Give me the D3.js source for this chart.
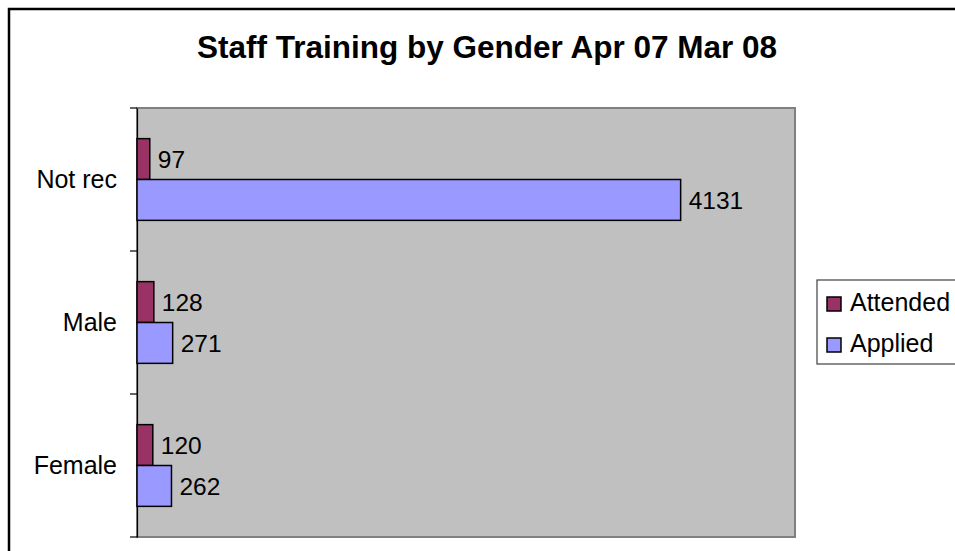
<!DOCTYPE html>
<html>
<head>
<meta charset="utf-8">
<script src="https://cdn.jsdelivr.net/npm/d3@7"></script>
<style>
  html, body { margin: 0; padding: 0; background: #fff; }
  svg { display: block; }
  text { font-family: "Liberation Sans", Arial, sans-serif; }
</style>
</head>
<body>
<svg id="chart" width="955" height="551"></svg>
<script>
const title = "Staff Training by Gender Apr 07 Mar 08";
const categories = ["Not rec", "Male", "Female"];
const seriesNames = ["Attended", "Applied"];
const attended = [97, 128, 120];
const applied = [4131, 271, 262];
const xMax = 5000;

const colors = { Attended: "#993366", Applied: "#9999FF" };

const svg = d3.select("#chart");

// outer chart border (extends past the canvas at right/bottom)
svg.append("rect")
  .attr("x", 9).attr("y", 9).attr("width", 1000).attr("height", 600)
  .attr("fill", "#fff").attr("stroke", "#000").attr("stroke-width", 2.5);

// title
svg.append("text")
  .attr("x", 487).attr("y", 58)
  .attr("text-anchor", "middle")
  .attr("font-weight", "bold")
  .attr("font-size", 31.5)
  .attr("fill", "#000")
  .text(title);

const plot = { left: 137, top: 108, right: 795, bottom: 537 };

const x = d3.scaleLinear().domain([0, xMax]).range([plot.left, plot.right]);
const y = d3.scaleBand().domain(categories).range([plot.top, plot.bottom]).paddingInner(0).paddingOuter(0);
const inner = d3.scaleBand().domain(seriesNames).range([0, y.bandwidth()]).paddingInner(0).paddingOuter(0.75);

// plot area
svg.append("rect")
  .attr("x", plot.left).attr("y", plot.top)
  .attr("width", plot.right - plot.left).attr("height", plot.bottom - plot.top)
  .attr("fill", "#C0C0C0").attr("stroke", "#808080").attr("stroke-width", 2);

// category axis
const yAxis = d3.axisLeft(y).tickSize(0).tickPadding(20);
const gy = svg.append("g").attr("transform", `translate(${plot.left},0)`).call(yAxis);
gy.select(".domain").attr("stroke", "#000").attr("stroke-width", 1.2);
gy.selectAll(".tick text")
  .attr("font-size", 25).attr("fill", "#000")
  .attr("font-family", "Liberation Sans, Arial, sans-serif");

// tick marks at category boundaries
const bounds = categories.map(c => y(c)).concat([plot.bottom]);
svg.append("g").selectAll("line").data(bounds).join("line")
  .attr("x1", plot.left - 7).attr("x2", plot.left)
  .attr("y1", d => d).attr("y2", d => d)
  .attr("stroke", "#000").attr("stroke-width", 1.2);

// data
const rows = [];
categories.forEach((c, i) => {
  rows.push({ cat: c, series: "Attended", value: attended[i] });
  rows.push({ cat: c, series: "Applied", value: applied[i] });
});

svg.append("g").selectAll("rect").data(rows).join("rect")
  .attr("x", x(0))
  .attr("y", d => y(d.cat) + inner(d.series))
  .attr("width", d => x(d.value) - x(0))
  .attr("height", inner.bandwidth())
  .attr("fill", d => colors[d.series])
  .attr("stroke", "#000").attr("stroke-width", 1.5);

svg.append("g").selectAll("text").data(rows).join("text")
  .attr("x", d => x(d.value) + 8)
  .attr("y", d => y(d.cat) + inner(d.series) + inner.bandwidth() / 2)
  .attr("dy", "0.35em")
  .attr("font-size", 24.5).attr("fill", "#000")
  .text(d => d.value);

// legend
const lg = svg.append("g").attr("transform", "translate(817,280)");
lg.append("rect").attr("x", 0).attr("y", 0).attr("width", 160).attr("height", 84)
  .attr("fill", "#fff").attr("stroke", "#404040").attr("stroke-width", 1.2);
seriesNames.forEach((s, i) => {
  const gy0 = 17 + i * 41;
  lg.append("rect").attr("x", 10).attr("y", gy0).attr("width", 14).attr("height", 14)
    .attr("fill", colors[s]).attr("stroke", "#000").attr("stroke-width", 1.5);
  lg.append("text").attr("x", 33).attr("y", gy0 + 14).attr("font-size", 25).attr("fill", "#000").text(s);
});
</script>
</body>
</html>
